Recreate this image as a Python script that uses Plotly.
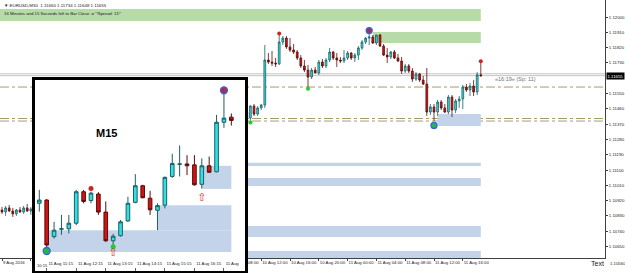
import plotly.graph_objects as go

W, H = 625, 273

# ---------------- main chart: EURUSD M30 (bar index, O, H, L, C) ----------------
main_idx = [0, 1, 2, 3, 4, 5, 6, 7, 8] + list(range(68, 134))
main_open = [1.10865, 1.10853, 1.10877, 1.10859, 1.10842, 1.10865, 1.10853, 1.10877, 1.10859,
             1.11441, 1.11406, 1.11476, 1.11429, 1.11465, 1.11482, 1.11747, 1.11735, 1.11729, 1.11724,
             1.11853, 1.11876, 1.11824, 1.11806, 1.11794, 1.11759, 1.11712, 1.11688, 1.11647, 1.11688,
             1.11671, 1.11735, 1.11712, 1.11747, 1.11794, 1.11759, 1.11747, 1.11741, 1.11759, 1.11788,
             1.11759, 1.11776, 1.11818, 1.11853, 1.11876, 1.11882, 1.11847, 1.11894, 1.11829, 1.11776,
             1.11765, 1.11794, 1.11759, 1.11741, 1.11682, 1.11712, 1.11682, 1.11635, 1.11665, 1.11629,
             1.11606, 1.11441, 1.11471, 1.11441, 1.11500, 1.11465, 1.11441, 1.11529, 1.11453, 1.11506,
             1.11518, 1.11588, 1.11571, 1.11594, 1.11559, 1.11660]
main_high = [1.10883, 1.10889, 1.10895, 1.10877, 1.10871, 1.10883, 1.10889, 1.10900, 1.10883,
             1.11453, 1.11482, 1.11488, 1.11476, 1.11488, 1.11835, 1.11788, 1.11800, 1.11759, 1.11894,
             1.11888, 1.11888, 1.11876, 1.11841, 1.11806, 1.11776, 1.11747, 1.11718, 1.11700, 1.11706,
             1.11747, 1.11753, 1.11759, 1.11818, 1.11800, 1.11788, 1.11765, 1.11806, 1.11800, 1.11794,
             1.11788, 1.11829, 1.11865, 1.11882, 1.11906, 1.11894, 1.11894, 1.11900, 1.11841, 1.11818,
             1.11800, 1.11806, 1.11782, 1.11765, 1.11724, 1.11724, 1.11700, 1.11676, 1.11671, 1.11653,
             1.11700, 1.11488, 1.11488, 1.11512, 1.11512, 1.11488, 1.11541, 1.11541, 1.11518, 1.11535,
             1.11600, 1.11606, 1.11612, 1.11629, 1.11676, 1.11734]
main_low = [1.10842, 1.10830, 1.10853, 1.10824, 1.10830, 1.10848, 1.10842, 1.10853, 1.10836,
            1.11400, 1.11388, 1.11418, 1.11418, 1.11453, 1.11465, 1.11724, 1.11712, 1.11706, 1.11718,
            1.11835, 1.11812, 1.11794, 1.11782, 1.11747, 1.11700, 1.11676, 1.11588, 1.11635, 1.11682,
            1.11659, 1.11700, 1.11700, 1.11735, 1.11747, 1.11706, 1.11729, 1.11729, 1.11747, 1.11747,
            1.11735, 1.11747, 1.11806, 1.11841, 1.11835, 1.11841, 1.11835, 1.11824, 1.11771, 1.11729,
            1.11753, 1.11753, 1.11735, 1.11665, 1.11671, 1.11671, 1.11618, 1.11624, 1.11618, 1.11600,
            1.11418, 1.11424, 1.11388, 1.11418, 1.11453, 1.11435, 1.11429, 1.11412, 1.11435, 1.11465,
            1.11459, 1.11559, 1.11535, 1.11535, 1.11541, 1.11648]
main_close = [1.10853, 1.10877, 1.10859, 1.10842, 1.10865, 1.10853, 1.10877, 1.10859, 1.10871,
              1.11406, 1.11476, 1.11429, 1.11465, 1.11482, 1.11747, 1.11735, 1.11729, 1.11724, 1.11853,
              1.11876, 1.11824, 1.11806, 1.11794, 1.11759, 1.11712, 1.11688, 1.11647, 1.11688, 1.11671,
              1.11735, 1.11712, 1.11747, 1.11794, 1.11759, 1.11747, 1.11741, 1.11759, 1.11788, 1.11759,
              1.11776, 1.11818, 1.11853, 1.11876, 1.11882, 1.11847, 1.11894, 1.11829, 1.11776, 1.11765,
              1.11794, 1.11759, 1.11741, 1.11682, 1.11712, 1.11682, 1.11635, 1.11665, 1.11629, 1.11606,
              1.11441, 1.11471, 1.11441, 1.11500, 1.11465, 1.11441, 1.11529, 1.11453, 1.11506, 1.11518,
              1.11588, 1.11571, 1.11594, 1.11559, 1.11660, 1.11655]

# fractal / swing markers on the main chart
main_up_dot_idx = [77, 133]
main_up_dot_val = [1.11903, 1.11740]
main_dn_dot_idx = [69, 85]
main_dn_dot_val = [1.11380, 1.11578]
main_swing_hi_idx = [102]
main_swing_hi_val = [1.11920]
main_swing_lo_idx = [120]
main_swing_lo_val = [1.11362]

# main price levels
bid_price = 1.11655
ask_price = 1.11666
main_dashdot_levels = [1.11588, 1.11403, 1.11388]
main_dashdot_colors = ["#a89a62", "#a89a62", "#9aa08a"]

# main zones: (first bar, last bar, low, high, kind)
main_zones = [
    (-2, 133, 1.11976, 1.12047, "supply"),
    (103, 133, 1.11847, 1.11912, "supply"),
    (121, 133, 1.11359, 1.11429, "demand"),
    (20, 133, 1.11124, 1.11142, "demand"),
    (20, 133, 1.11006, 1.11053, "demand"),
    (20, 133, 1.10706, 1.10771, "demand"),
    (20, 133, 1.10582, 1.10624, "demand"),
]

# axis labels (1.11640 sits under the current-price box; labels behind the inset are hidden)
price_ticks = [1.12000, 1.11910, 1.11820, 1.11730, 1.11550, 1.11460, 1.11370, 1.11280,
               1.11190, 1.11100, 1.11010, 1.10920, 1.10830, 1.10740, 1.10650]
price_bottom_label = "1.10560"
time_tick_idx = [0, 8, 16, 24, 32, 40, 48, 56, 64, 72, 80, 88, 96, 104, 112, 120, 128]
time_tick_text = ["9 Aug 2016", "9", "", "", "", "", "", "", "10 Aug 08:00", "10 Aug 12:00",
                  "10 Aug 16:00", "10 Aug 20:00", "11 Aug 00:00", "11 Aug 04:00", "11 Aug 08:00",
                  "11 Aug 12:00", "11 Aug 16:00"]

# ---------------- inset: M15 ----------------
ins_idx = list(range(1, 28))
ins_open = [1.11496, 1.11503, 1.11424, 1.11440, 1.11441, 1.11453, 1.11521, 1.11502, 1.11516,
            1.11477, 1.11415, 1.11426, 1.11458, 1.11498, 1.11534, 1.11507, 1.11481, 1.11492,
            1.11554, 1.11580, 1.11581, 1.11579, 1.11537, 1.11577, 1.11564, 1.11671, 1.11682]
ins_high = [1.11525, 1.11505, 1.11456, 1.11471, 1.11471, 1.11525, 1.11525, 1.11521, 1.11520,
            1.11500, 1.11430, 1.11460, 1.11510, 1.11559, 1.11536, 1.11523, 1.11496, 1.11554,
            1.11603, 1.11621, 1.11600, 1.11600, 1.11593, 1.11597, 1.11687, 1.11734, 1.11690]
ins_low = [1.11478, 1.11399, 1.11420, 1.11428, 1.11431, 1.11449, 1.11496, 1.11496, 1.11471,
           1.11413, 1.11406, 1.11424, 1.11456, 1.11496, 1.11507, 1.11471, 1.11438, 1.11485,
           1.11551, 1.11554, 1.11557, 1.11534, 1.11528, 1.11562, 1.11563, 1.11659, 1.11664]
ins_close = [1.11503, 1.11406, 1.11438, 1.11441, 1.11453, 1.11521, 1.11500, 1.11518, 1.11477,
             1.11415, 1.11425, 1.11456, 1.11496, 1.11534, 1.11508, 1.11482, 1.11491, 1.11552,
             1.11582, 1.11581, 1.11577, 1.11536, 1.11577, 1.11563, 1.11671, 1.11680, 1.11675]

ins_up_dot_idx = [8]
ins_up_dot_val = [1.11528]
ins_dn_dot_idx = [11]
ins_dn_dot_val = [1.11402]
ins_swing_hi_idx = [26]
ins_swing_hi_val = [1.11740]
ins_swing_lo_idx = [2]
ins_swing_lo_val = [1.11393]
ins_arrow_idx = [11, 23]
ins_arrow_val = [1.11389, 1.11508]

ins_solid_levels = [1.11685, 1.11674]
ins_dashdot_levels = [1.11607, 1.11603, 1.11432, 1.11415]
ins_dashdot_colors = ["#a8925a", "#9a9a9a", "#b06a50", "#6ab06a"]
ins_zones = [(2, 27, 1.11391, 1.11438), (17, 27, 1.11438, 1.11492), (23, 27, 1.11527, 1.11577)]
ins_tick_idx = [2, 6, 10, 14, 18, 22, 26]
ins_tick_text = ["11 Aug 11:15", "11 Aug 12:15", "11 Aug 13:15", "11 Aug 14:15",
                 "11 Aug 15:15", "11 Aug 16:15", "11 Aug"]

# ---------------- figure ----------------
FONT = "Liberation Sans, Arial, sans-serif"
BULL_FILL, BULL_LINE = "#2fe0e6", "#1d5f62"
BEAR_FILL, BEAR_LINE = "#d01414", "#5a0c0c"
SUPPLY = "#b6dba8"
DEMAND = "#c3d4ea"
SMALL = 4.3

fig = go.Figure()

fig.add_trace(go.Candlestick(
    x=main_idx, open=main_open, high=main_high, low=main_low, close=main_close,
    xaxis="x", yaxis="y",
    increasing=dict(fillcolor=BULL_FILL, line=dict(color=BULL_LINE, width=0.8)),
    decreasing=dict(fillcolor=BEAR_FILL, line=dict(color=BEAR_LINE, width=0.8)),
    whiskerwidth=0, hoverinfo="skip", showlegend=False))

def dots(x, y, xa, ya, color, size, ring=None):
    fig.add_trace(go.Scatter(
        x=x, y=y, xaxis=xa, yaxis=ya, mode="markers", hoverinfo="skip", showlegend=False,
        marker=dict(color=color, size=size,
                    line=dict(color=ring if ring else color, width=1.3 if ring else 0))))

dots(main_up_dot_idx, main_up_dot_val, "x", "y", "#d42020", 4)
dots(main_dn_dot_idx, main_dn_dot_val, "x", "y", "#22cc22", 4)
dots(main_swing_hi_idx, main_swing_hi_val, "x", "y", "#a0305a", 6, ring="#3a64d8")
dots(main_swing_lo_idx, main_swing_lo_val, "x", "y", "#22b84a", 6, ring="#3a64d8")

fig.add_trace(go.Candlestick(
    x=ins_idx, open=ins_open, high=ins_high, low=ins_low, close=ins_close,
    xaxis="x2", yaxis="y2",
    increasing=dict(fillcolor=BULL_FILL, line=dict(color=BULL_LINE, width=1)),
    decreasing=dict(fillcolor=BEAR_FILL, line=dict(color=BEAR_LINE, width=1)),
    whiskerwidth=0, hoverinfo="skip", showlegend=False))

dots(ins_up_dot_idx, ins_up_dot_val, "x2", "y2", "#d42020", 5)
dots(ins_dn_dot_idx, ins_dn_dot_val, "x2", "y2", "#22cc22", 5)
dots(ins_swing_hi_idx, ins_swing_hi_val, "x2", "y2", "#a0305a", 7, ring="#3a64d8")
dots(ins_swing_lo_idx, ins_swing_lo_val, "x2", "y2", "#22b84a", 7, ring="#3a64d8")
fig.add_trace(go.Scatter(
    x=ins_arrow_idx, y=ins_arrow_val, xaxis="x2", yaxis="y2", mode="text", text=["⇧"] * len(ins_arrow_idx),
    textfont=dict(color="#d83030", size=11, family="DejaVu Sans"), hoverinfo="skip", showlegend=False))

shapes = []
for x0, x1, lo, hi, kind in main_zones:
    shapes.append(dict(type="rect", xref="x", yref="y", x0=x0, x1=x1, y0=lo, y1=hi,
                       fillcolor=SUPPLY if kind == "supply" else DEMAND, line=dict(width=0), layer="below"))
for lvl in (ask_price, bid_price):
    shapes.append(dict(type="line", xref="x domain", yref="y", x0=0, x1=1, y0=lvl, y1=lvl,
                       line=dict(color="#b4b4b4", width=0.8), layer="below"))
for lvl, col in zip(main_dashdot_levels, main_dashdot_colors):
    shapes.append(dict(type="line", xref="x domain", yref="y", x0=0, x1=1, y0=lvl, y1=lvl,
                       line=dict(color=col, width=1, dash="dashdot"), layer="below"))
for x0, x1, lo, hi in ins_zones:
    shapes.append(dict(type="rect", xref="x2", yref="y2", x0=x0, x1=x1, y0=lo, y1=hi,
                       fillcolor=DEMAND, line=dict(width=0), layer="below"))
for lvl in ins_solid_levels:
    shapes.append(dict(type="line", xref="x2 domain", yref="y2", x0=0, x1=1, y0=lvl, y1=lvl,
                       line=dict(color="#c4c4c4", width=1), layer="below"))
for lvl, col in zip(ins_dashdot_levels, ins_dashdot_colors):
    shapes.append(dict(type="line", xref="x2 domain", yref="y2", x0=0, x1=1, y0=lvl, y1=lvl,
                       line=dict(color=col, width=1, dash="dashdot"), layer="below"))

def px(x):
    return x / W

def py(y):
    return 1 - y / H

annotations = [
    dict(text="▼ EURUSD,M30  1.11660 1.11734 1.11648 1.11655", xref="paper", yref="paper",
         x=px(2), y=py(5), xanchor="left", yanchor="middle", showarrow=False,
         font=dict(size=4.4, color="#202020", family=FONT)),
    dict(text='16 Minutes and 15 Seconds left to Bar Close. = "!Spread: 11!"', xref="paper", yref="paper",
         x=px(2), y=py(13.5), xanchor="left", yanchor="middle", showarrow=False,
         font=dict(size=4.3, color="#202020", family=FONT)),
    dict(text="«16:19» (Sp: 11)", xref="x", yref="y", x=136.5, y=1.11635, xanchor="left",
         yanchor="middle", showarrow=False, font=dict(size=5.5, color="#707070", family=FONT)),
    dict(text=f"{bid_price:.5f}", xref="paper", yref="y", x=px(606), y=bid_price, xanchor="left",
         yanchor="middle", showarrow=False, bgcolor="#000000", borderpad=0.5,
         font=dict(size=SMALL, color="#ffffff", family=FONT)),
    dict(text=price_bottom_label, xref="paper", yref="paper", x=px(608), y=py(263),
         xanchor="left", yanchor="middle", showarrow=False, font=dict(size=SMALL, color="#202020", family=FONT)),
    dict(text="Text", xref="paper", yref="paper", x=px(597), y=py(263), xanchor="center", yanchor="middle",
         showarrow=False, font=dict(size=7, color="#202020", family=FONT)),
    dict(text="<b>M15</b>", xref="paper", yref="paper", x=px(106), y=py(133), xanchor="center",
         yanchor="middle", showarrow=False, font=dict(size=11, color="#000000", family=FONT)),
    dict(text="10:15", xref="paper", yref="paper", x=px(36.3), y=py(265), xanchor="left",
         yanchor="middle", showarrow=False, borderpad=0, font=dict(size=4.1, color="#202020", family=FONT)),
]

fig.update_layout(
    width=W, height=H, margin=dict(l=0, r=0, t=0, b=0),
    paper_bgcolor="#ffffff", plot_bgcolor="#ffffff", showlegend=False,
    font=dict(family=FONT, size=SMALL, color="#202020"),
    shapes=shapes, annotations=annotations, boxgap=0.3,
    xaxis=dict(domain=[0, px(605)], range=[-0.556, 167.5], anchor="y",
               showline=True, linecolor="#404040", linewidth=1, mirror=False,
               ticks="outside", ticklen=2, tickcolor="#404040", tickangle=0,
               tickvals=time_tick_idx, ticktext=time_tick_text, ticklabelposition="outside right",
               tickfont=dict(size=SMALL, color="#202020"),
               showgrid=False, zeroline=False, rangeslider=dict(visible=False), fixedrange=True),
    yaxis=dict(domain=[py(258), 1], range=[1.105824, 1.121], anchor="x", side="right",
               showline=True, linecolor="#404040", linewidth=1,
               ticks="outside", ticklen=2, tickcolor="#404040",
               tickvals=price_ticks, tickformat=".5f", tickfont=dict(size=SMALL, color="#202020"),
               showgrid=False, zeroline=False, fixedrange=True),
    xaxis2=dict(domain=[px(35), px(245)], range=[0.418, 28.85], anchor="y2",
                showline=True, linecolor="#000000", linewidth=2.5, mirror=True,
                ticks="inside", ticklen=3, tickcolor="#606060", tickangle=0,
                tickvals=ins_tick_idx, ticktext=ins_tick_text, ticklabelposition="inside right",
                tickfont=dict(size=SMALL, color="#202020"),
                showgrid=False, zeroline=False, rangeslider=dict(visible=False), fixedrange=True),
    yaxis2=dict(domain=[py(271), py(80)], range=[1.113498, 1.117623], anchor="x2",
                showline=True, linecolor="#000000", linewidth=2.5, mirror=True,
                showticklabels=False, ticks="", showgrid=False, zeroline=False, fixedrange=True),
)

fig.write_html("out.html")
